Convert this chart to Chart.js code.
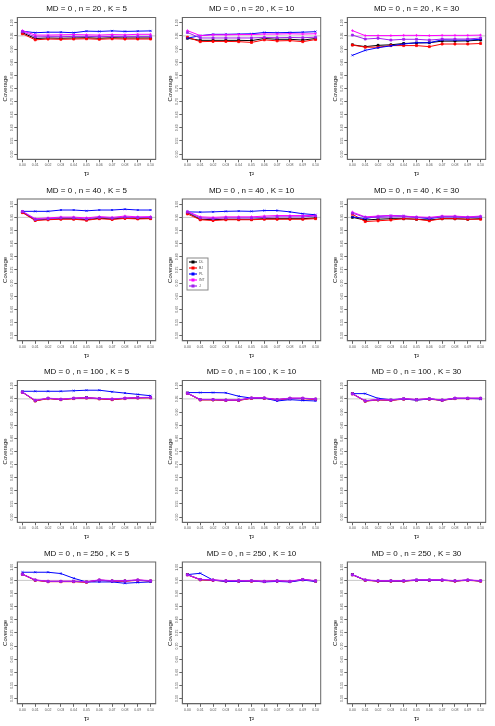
<!DOCTYPE html>
<html>
<head>
<meta charset="utf-8">
<script src="https://cdn.jsdelivr.net/npm/chart.js@4.4.1/dist/chart.umd.min.js"></script>
<style>
  html, body { margin: 0; padding: 0; background: #fff; }
  #wrap { position: relative; width: 495px; height: 726px; overflow: hidden; }
  #wrap canvas { position: absolute; }
</style>
</head>
<body>
<div id="wrap"></div>
<script>
// tau^2 grid and axis ticks
const tau2 = [0.00, 0.01, 0.02, 0.03, 0.04, 0.05, 0.06, 0.07, 0.08, 0.09, 0.10];
const yTicks = [0.50, 0.55, 0.60, 0.65, 0.70, 0.75, 0.80, 0.85, 0.90, 0.95, 1.00];
const methods = ['DL', 'BJ', 'PL', 'INT', 'J'];
const colors = ['#000000', '#ff0000', '#0000ff', '#ff00ff', '#a020f0'];
const sizes = [20, 40, 100, 250];
const ks = [5, 10, 30];

// coverage per panel, rows in order DL, BJ, PL, INT, J
const n20k5 = [
  [.962,.940,.942,.941,.942,.943,.941,.943,.942,.942,.942],
  [.958,.935,.938,.937,.938,.939,.937,.939,.938,.938,.938],
  [.968,.962,.964,.964,.962,.968,.967,.969,.967,.968,.969],
  [.970,.953,.953,.954,.955,.954,.953,.955,.954,.956,.956],
  [.966,.946,.947,.947,.948,.948,.947,.948,.948,.948,.948]
];
const n20k10 = [
  [.941,.933,.933,.933,.933,.932,.940,.937,.937,.934,.940],
  [.945,.928,.929,.929,.928,.925,.935,.931,.932,.928,.936],
  [.941,.951,.956,.956,.957,.958,.963,.962,.963,.964,.966],
  [.970,.951,.954,.954,.955,.955,.957,.957,.958,.957,.958],
  [.963,.942,.942,.942,.942,.942,.944,.943,.944,.943,.945]
];
const n20k30 = [
  [.916,.909,.914,.916,.921,.923,.924,.930,.930,.931,.934],
  [.915,.907,.907,.913,.913,.913,.909,.919,.919,.919,.921],
  [.876,.895,.905,.912,.919,.924,.924,.935,.934,.934,.937],
  [.970,.951,.951,.951,.952,.952,.951,.952,.952,.952,.953],
  [.953,.938,.941,.934,.937,.937,.934,.938,.938,.938,.942]
];
const n40k5 = [
  [.970,.940,.943,.945,.945,.941,.947,.944,.948,.946,.947],
  [.968,.938,.941,.943,.943,.939,.945,.942,.946,.944,.945],
  [.973,.973,.973,.978,.978,.975,.978,.978,.981,.978,.978],
  [.973,.945,.948,.951,.951,.948,.953,.950,.955,.952,.953],
  [.972,.942,.945,.948,.948,.944,.950,.947,.951,.949,.950]
];
const n40k10 = [
  [.968,.943,.941,.943,.943,.943,.945,.945,.945,.945,.948],
  [.963,.941,.938,.941,.941,.941,.943,.943,.943,.943,.945],
  [.971,.970,.971,.973,.974,.973,.976,.976,.971,.964,.960],
  [.973,.952,.950,.952,.952,.952,.955,.957,.957,.957,.957],
  [.970,.948,.945,.948,.948,.948,.950,.952,.952,.952,.955]
];
const n40k30 = [
  [.950,.940,.943,.945,.945,.943,.940,.945,.945,.943,.945],
  [.962,.934,.937,.940,.945,.943,.937,.945,.945,.943,.943],
  [.952,.945,.954,.957,.955,.950,.945,.952,.952,.950,.952],
  [.970,.952,.955,.957,.955,.952,.950,.955,.955,.952,.955],
  [.966,.950,.950,.952,.952,.950,.948,.952,.952,.950,.952]
];
const n100k5 = [
  [.976,.943,.952,.948,.952,.955,.951,.948,.952,.955,.955],
  [.975,.942,.951,.947,.951,.953,.950,.947,.951,.953,.954],
  [.979,.979,.979,.979,.981,.983,.983,.977,.972,.967,.962],
  [.976,.945,.953,.949,.953,.955,.952,.950,.953,.955,.956],
  [.975,.944,.952,.948,.952,.954,.951,.949,.952,.954,.955]
];
const n100k10 = [
  [.972,.947,.947,.945,.945,.953,.953,.947,.952,.952,.949],
  [.971,.946,.946,.944,.944,.952,.952,.946,.951,.951,.948],
  [.974,.974,.974,.973,.960,.953,.953,.942,.947,.944,.942],
  [.972,.948,.948,.946,.946,.954,.954,.948,.953,.953,.950],
  [.971,.947,.947,.945,.945,.953,.953,.947,.952,.952,.949]
];
const n100k30 = [
  [.970,.942,.947,.945,.950,.947,.950,.945,.952,.952,.952],
  [.969,.941,.946,.944,.949,.946,.949,.944,.951,.951,.951],
  [.970,.970,.952,.947,.950,.945,.950,.945,.952,.952,.950],
  [.970,.943,.948,.946,.951,.948,.951,.946,.953,.953,.953],
  [.969,.942,.947,.945,.950,.947,.950,.945,.952,.952,.952]
];
const n250k5 = [
  [.974,.951,.946,.946,.946,.944,.951,.948,.948,.951,.948],
  [.973,.950,.945,.945,.945,.943,.950,.947,.947,.950,.947],
  [.981,.981,.981,.976,.958,.944,.944,.944,.939,.942,.944],
  [.974,.952,.947,.947,.947,.945,.952,.949,.949,.952,.949],
  [.973,.951,.946,.946,.946,.944,.951,.948,.948,.951,.948]
];
const n250k10 = [
  [.972,.953,.951,.948,.948,.948,.946,.948,.946,.953,.948],
  [.971,.952,.950,.947,.947,.947,.945,.947,.945,.952,.947],
  [.972,.977,.951,.946,.946,.948,.944,.946,.944,.951,.946],
  [.972,.954,.952,.949,.949,.949,.947,.949,.947,.954,.949],
  [.971,.953,.951,.948,.948,.948,.946,.948,.946,.953,.948]
];
const n250k30 = [
  [.972,.951,.948,.948,.948,.951,.951,.951,.948,.951,.948],
  [.971,.950,.947,.947,.947,.950,.950,.950,.947,.950,.947],
  [.972,.951,.948,.948,.948,.951,.951,.951,.948,.951,.948],
  [.972,.952,.949,.949,.949,.952,.952,.952,.949,.952,.949],
  [.971,.951,.948,.948,.948,.951,.951,.951,.948,.951,.948]
];
const panels = [n20k5, n20k10, n20k30, n40k5, n40k10, n40k30,
                n100k5, n100k10, n100k30, n250k5, n250k10, n250k30];

const pointStyles = ['rect', 'rect', 'crossRot', 'cross', 'rect'];
const FONT = "'Liberation Sans', Arial, sans-serif";
const CELL_W = 165, CELL_H = 181.5;

// title, reference line at 0.95, box and rotated y labels
const framePlugin = {
  id: 'frame',
  beforeDatasetsDraw(chart) {
    const { ctx, chartArea, scales } = chart;
    const y = scales.y.getPixelForValue(0.95);
    ctx.save();
    ctx.strokeStyle = '#c8c8c8';
    ctx.lineWidth = 1;
    ctx.beginPath();
    ctx.moveTo(chartArea.left, y);
    ctx.lineTo(chartArea.right, y);
    ctx.stroke();
    ctx.restore();
  },
  afterDraw(chart, args, opts) {
    const { ctx, chartArea, scales } = chart;
    ctx.save();
    ctx.strokeStyle = '#666';
    ctx.lineWidth = 1;
    ctx.strokeRect(chartArea.left, chartArea.top, chartArea.right - chartArea.left, chartArea.bottom - chartArea.top);

    ctx.fillStyle = '#111';
    ctx.font = '8px ' + FONT;
    ctx.textAlign = 'center';
    ctx.textBaseline = 'middle';
    ctx.fillText(opts.title, (chartArea.left + chartArea.right) / 2, 8.5);

    ctx.font = '3.5px ' + FONT;
    ctx.fillStyle = '#555';
    scales.y.ticks.forEach(t => {
      const py = scales.y.getPixelForValue(t.value);
      ctx.save();
      ctx.translate(chartArea.left - 5.5, py);
      ctx.rotate(-Math.PI / 2);
      ctx.fillText(t.value.toFixed(2), 0, 0);
      ctx.restore();
    });

    if (opts.legend) {
      const lx = 22, ly = 76, lw = 21, lh = 32;
      ctx.fillStyle = '#fff';
      ctx.fillRect(lx, ly, lw, lh);
      ctx.strokeStyle = '#888';
      ctx.strokeRect(lx, ly, lw, lh);
      chart.data.datasets.forEach((ds, i) => {
        const yy = ly + 4 + i * 6;
        ctx.strokeStyle = ds.borderColor;
        ctx.lineWidth = 1.2;
        ctx.beginPath();
        ctx.moveTo(lx + 2, yy);
        ctx.lineTo(lx + 10, yy);
        ctx.stroke();
        ctx.fillStyle = ds.borderColor;
        ctx.fillRect(lx + 4.5, yy - 1.5, 3, 3);
        ctx.fillStyle = '#555';
        ctx.textAlign = 'left';
        ctx.fillText(ds.label, lx + 12, yy);
      });
    }
    ctx.restore();
  }
};

const wrap = document.getElementById('wrap');
panels.forEach((panel, idx) => {
  const row = Math.floor(idx / 3), col = idx % 3;
  const top = Math.round(row * CELL_H);
  const canvas = document.createElement('canvas');
  canvas.width = CELL_W;
  canvas.height = 182;
  canvas.style.left = (col * CELL_W) + 'px';
  canvas.style.top = top + 'px';
  wrap.appendChild(canvas);

  const boxTop = 17.5 + (row * CELL_H - top);
  const boxBottom = boxTop + 141.8;

  new Chart(canvas.getContext('2d'), {
    type: 'line',
    data: {
      datasets: panel.map((vals, m) => ({
        label: methods[m],
        data: vals.map((v, i) => ({ x: tau2[i], y: v })),
        borderColor: colors[m],
        backgroundColor: colors[m],
        borderWidth: 1,
        pointStyle: pointStyles[m],
        pointRadius: 1.4,
        pointBorderWidth: 0.8,
        tension: 0,
        // later methods are drawn over earlier ones, as in the original plot
        order: methods.length - m
      }))
    },
    options: {
      responsive: false,
      animation: false,
      devicePixelRatio: 1,
      layout: { padding: { top: boxTop, right: CELL_W - 155.7, left: 0, bottom: 0 } },
      plugins: {
        legend: { display: false },
        tooltip: { enabled: false },
        frame: { title: 'MD = 0 , n = ' + sizes[row] + ' , K = ' + ks[col], legend: idx === 4 }
      },
      scales: {
        x: {
          type: 'linear',
          min: -0.004,
          max: 0.104,
          afterBuildTicks: s => { s.ticks = tau2.map(v => ({ value: v })); },
          afterFit: s => { s.height = 182 - boxBottom; },
          grid: { drawOnChartArea: false, tickLength: 3, color: '#666' },
          border: { color: '#666' },
          ticks: {
            autoSkip: false, maxRotation: 0, minRotation: 0, padding: 1,
            color: '#555', font: { size: 3.5, family: FONT },
            callback: v => v.toFixed(2)
          },
          title: { display: true, text: 'τ²', color: '#111', font: { size: 7, family: FONT }, padding: { top: 0, bottom: 4 } }
        },
        y: {
          min: 0.48,
          max: 1.02,
          afterBuildTicks: s => { s.ticks = yTicks.map(v => ({ value: v })); },
          afterFit: s => { s.width = 17.3; },
          grid: { drawOnChartArea: false, tickLength: 3, color: '#666' },
          border: { color: '#666' },
          ticks: { display: false },
          title: { display: true, text: 'Coverage', color: '#111', font: { size: 6, family: FONT }, padding: { top: 1.5, bottom: 0 } }
        }
      }
    },
    plugins: [framePlugin]
  });
});
</script>
</body>
</html>
